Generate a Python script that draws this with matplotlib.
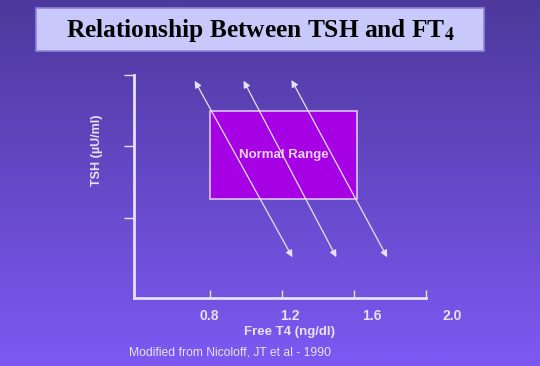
import numpy as np
import matplotlib
matplotlib.use("Agg")
import matplotlib.pyplot as plt
from matplotlib.patches import Rectangle

# --- data ---
x_ticks = [0.8, 1.2, 1.6, 2.0]
x_tick_labels = ["0.8", "1.2", "1.6", "2.0"]
y_ticks = [1, 2, 3]

# normal range box (FT4 low/high, TSH low/high)
normal_ft4 = [0.8, 1.62]
normal_tsh = [1.27, 2.5]

# inverse TSH/FT4 lines: top and bottom ends
line_x_top = [0.717, 0.988, 1.254]
line_x_bot = [1.259, 1.503, 1.785]
line_y_top = [2.92, 2.92, 2.93]
line_y_bot = [0.45, 0.45, 0.45]

fg = "#e6e2fa"
plt.rcParams["mathtext.fontset"] = "stix"

fig = plt.figure(figsize=(5.4, 3.66), dpi=100)

# gradient background
bg = fig.add_axes([0, 0, 1, 1], zorder=-10)
top = np.array([0x4d, 0x39, 0x9c]) / 255
bottom = np.array([0x7d, 0x59, 0xf3]) / 255
t = np.linspace(0, 1, 256)[:, None]
grad = top[None, :] * (1 - t) + bottom[None, :] * t
bg.imshow(grad[:, None, :], aspect="auto", extent=[0, 1, 0, 1])
bg.set_axis_off()

# title box
fig.patches.append(Rectangle((0.0667, 0.8607), 0.8296, 0.1175, transform=fig.transFigure,
                             facecolor="#c9c8fa", edgecolor="#8f84e0", linewidth=1.2, zorder=1))
fig.text(0.4815, 0.918, r"Relationship Between TSH and FT$_{\mathbf{4}}$",
         ha="center", va="center", fontsize=18.3, fontweight="bold",
         family="Liberation Serif", color="black", zorder=2)

ax = fig.add_axes([0.2481, 0.1858, 0.5407, 0.6093])
ax.patch.set_alpha(0)
ax.set_xlim(0.38, 2.0)
ax.set_ylim(-0.12, 3.0)

for s in ["top", "right"]:
    ax.spines[s].set_visible(False)
for s in ["left", "bottom"]:
    ax.spines[s].set_color(fg)
    ax.spines[s].set_linewidth(2)

ax.set_xticks(x_ticks)
ax.set_xticklabels([])
ax.set_yticks(y_ticks)
ax.set_yticklabels([])
ax.tick_params(axis="both", colors=fg, length=7, width=1)
ax.tick_params(axis="x", direction="in", length=6)

# tick labels drawn slightly shifted right, as on the original slide
label_shift = [0, 8, 18, 26]
for xv, lab, dx in zip(x_ticks, x_tick_labels, label_shift):
    ax.annotate(lab, (xv, 0), xycoords=("data", "axes fraction"),
                xytext=(dx, -18), textcoords="offset pixels",
                ha="center", va="center", fontsize=10, fontweight="bold",
                family="Liberation Sans", color=fg)

fig.text(0.537, 0.093, "Free T4 (ng/dl)", ha="center", va="center", fontsize=9.5,
         fontweight="bold", family="Liberation Sans", color=fg)
fig.text(0.18, 0.59, "TSH (µU/ml)", ha="center", va="center", rotation=90,
         fontsize=9, fontweight="bold", family="Liberation Sans", color=fg)
fig.text(0.239, 0.038, "Modified from Nicoloff, JT et al - 1990", ha="left", va="center",
         fontsize=8.7, family="Liberation Sans", color=fg)

# normal range
ax.add_patch(Rectangle((normal_ft4[0], normal_tsh[0]), normal_ft4[1] - normal_ft4[0],
                       normal_tsh[1] - normal_tsh[0], facecolor="#a600e4",
                       edgecolor="#dcc8f2", linewidth=1.2, zorder=2))
ax.text(np.mean(normal_ft4), np.mean(normal_tsh), "Normal Range",
        ha="center", va="center", fontsize=9.5, fontweight="bold",
        family="Liberation Sans", color="#ecd4f6", zorder=3)

# double headed arrows
for xt, yt, xb, yb in zip(line_x_top, line_y_top, line_x_bot, line_y_bot):
    ax.annotate("", xy=(xt, yt), xytext=(xb, yb),
                arrowprops=dict(arrowstyle="<|-|>", color=fg, lw=0.9,
                                mutation_scale=10, shrinkA=0, shrinkB=0), zorder=4)

fig.savefig("out.png", dpi=100)
